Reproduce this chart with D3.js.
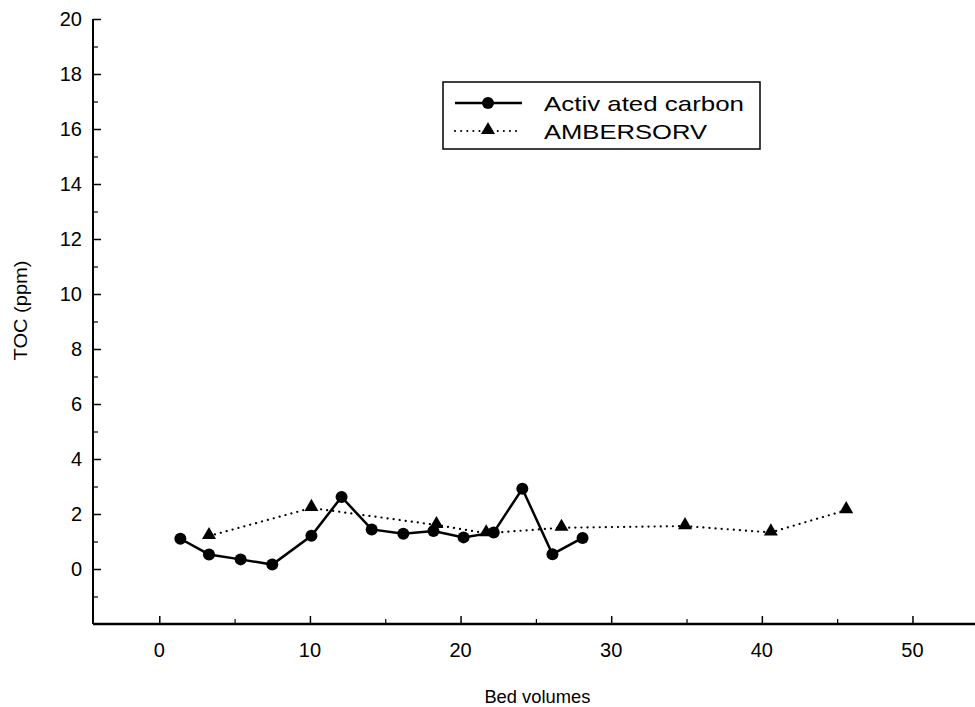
<!DOCTYPE html>
<html>
<head>
<meta charset="utf-8">
<script src="https://cdn.jsdelivr.net/npm/d3@7"></script>
<style>
  body { margin: 0; background: #fff; }
  svg { display: block; font-family: "Liberation Sans", Arial, sans-serif; }
</style>
</head>
<body>
<svg id="chart" width="975" height="707"></svg>
<script>
// data
const carbonBV  = [1.4, 3.3, 5.4, 7.5, 10.1, 12.1, 14.1, 16.2, 18.2, 20.2, 22.2, 24.1, 26.1, 28.1];
const carbonTOC = [1.1, 0.53, 0.35, 0.16, 1.21, 2.62, 1.44, 1.28, 1.38, 1.15, 1.33, 2.92, 0.54, 1.13];
const amberBV   = [3.3, 10.1, 18.4, 21.7, 26.7, 34.9, 40.6, 45.6];
const amberTOC  = [1.2, 2.22, 1.6, 1.3, 1.5, 1.56, 1.33, 2.14];
const xTicks = [0, 10, 20, 30, 40, 50];
const yTicks = [0, 2, 4, 6, 8, 10, 12, 14, 16, 18, 20];
const seriesNames = ["Activ ated carbon", "AMBERSORV"];

const margin = { top: 19, right: 0, bottom: 83, left: 93 };
const width = 975 - margin.left - margin.right;
const height = 707 - margin.top - margin.bottom;

const svg = d3.select("#chart")
    .append("g")
    .attr("transform", `translate(${margin.left},${margin.top})`);

const x = d3.scaleLinear().domain([-4.4, 54.15]).range([0, width]);
const y = d3.scaleLinear().domain([-2, 20]).range([height, 0]);

// y axis, ticks pointing inward
const yAxis = svg.append("g")
    .call(d3.axisRight(y).tickValues(yTicks).tickSize(8).tickFormat(""));
yAxis.select(".domain").attr("stroke-width", 2).attr("d", `M0,0V${height}`);
yAxis.selectAll(".tick line").attr("stroke-width", 1.5);
svg.append("g")
    .call(d3.axisRight(y).tickValues(d3.range(-1, 20, 2)).tickSize(5).tickFormat(""))
    .call(g => g.select(".domain").remove())
    .selectAll(".tick line").attr("stroke-width", 1.2);
svg.append("g")
    .selectAll("text")
    .data(yTicks)
    .enter().append("text")
    .attr("x", -11)
    .attr("y", d => y(d))
    .attr("dy", "0.36em")
    .attr("text-anchor", "end")
    .style("font-size", "20px")
    .text(d => d);

// x axis, ticks pointing up
const xAxis = svg.append("g")
    .attr("transform", `translate(0,${height})`)
    .call(d3.axisTop(x).tickValues(xTicks).tickSize(8).tickFormat(""));
xAxis.select(".domain").attr("stroke-width", 2.5).attr("d", `M0,0H${width}`);
xAxis.selectAll(".tick line").attr("stroke-width", 1.5);
svg.append("g")
    .attr("transform", `translate(0,${height})`)
    .call(d3.axisTop(x).tickValues([5, 15, 25, 35, 45]).tickSize(5).tickFormat(""))
    .call(g => g.select(".domain").remove())
    .selectAll(".tick line").attr("stroke-width", 1.2);
svg.append("g")
    .selectAll("text")
    .data(xTicks)
    .enter().append("text")
    .attr("x", d => x(d))
    .attr("y", height + 33)
    .attr("text-anchor", "middle")
    .style("font-size", "20px")
    .text(d => d);

// axis titles
svg.append("text")
    .attr("x", x(25.1))
    .attr("y", height + 79)
    .attr("text-anchor", "middle")
    .attr("textLength", 106)
    .attr("lengthAdjust", "spacingAndGlyphs")
    .style("font-size", "19px")
    .text("Bed volumes");
svg.append("text")
    .attr("transform", `translate(-66,${y(9.4)}) rotate(-90)`)
    .attr("text-anchor", "middle")
    .attr("textLength", 100)
    .attr("lengthAdjust", "spacingAndGlyphs")
    .style("font-size", "18px")
    .text("TOC (ppm)");

// series
const carbon = carbonBV.map((d, i) => [d, carbonTOC[i]]);
const amber = amberBV.map((d, i) => [d, amberTOC[i]]);
const line = d3.line().x(d => x(d[0])).y(d => y(d[1]));
const tri = d3.symbol().type(d3.symbolTriangle).size(85);

svg.append("path")
    .datum(amber)
    .attr("fill", "none")
    .attr("stroke", "#000")
    .attr("stroke-width", 2.2)
    .attr("stroke-linecap", "round")
    .attr("stroke-dasharray", "0.1 6")
    .attr("d", line);
svg.selectAll(".tri")
    .data(amber)
    .enter().append("path")
    .attr("class", "tri")
    .attr("transform", d => `translate(${x(d[0])},${y(d[1]) - 1})`)
    .attr("d", tri)
    .attr("fill", "#000");

svg.append("path")
    .datum(carbon)
    .attr("fill", "none")
    .attr("stroke", "#000")
    .attr("stroke-width", 2.5)
    .attr("d", line);
svg.selectAll(".dot")
    .data(carbon)
    .enter().append("circle")
    .attr("class", "dot")
    .attr("cx", d => x(d[0]))
    .attr("cy", d => y(d[1]))
    .attr("r", 6)
    .attr("fill", "#000");

// legend
const legend = svg.append("g").attr("transform", `translate(${443 - margin.left},${82 - margin.top})`);
legend.append("rect")
    .attr("width", 317)
    .attr("height", 67)
    .attr("fill", "#fff")
    .attr("stroke", "#000")
    .attr("stroke-width", 1.5);
legend.append("line")
    .attr("x1", 12).attr("x2", 79).attr("y1", 21).attr("y2", 21)
    .attr("stroke", "#000").attr("stroke-width", 2.5);
legend.append("circle")
    .attr("cx", 45).attr("cy", 21).attr("r", 6).attr("fill", "#000");
legend.append("line")
    .attr("x1", 12).attr("x2", 79).attr("y1", 49).attr("y2", 49)
    .attr("stroke", "#000").attr("stroke-width", 2)
    .attr("stroke-linecap", "round")
    .attr("stroke-dasharray", "0.1 6");
legend.append("path")
    .attr("transform", "translate(45,48)")
    .attr("d", tri)
    .attr("fill", "#000");
legend.selectAll(".ltext")
    .data(seriesNames)
    .enter().append("text")
    .attr("class", "ltext")
    .attr("x", 101)
    .attr("y", (d, i) => 21 + i * 28)
    .attr("dy", "0.36em")
    .attr("textLength", (d, i) => i === 0 ? 200 : 163)
    .attr("lengthAdjust", "spacingAndGlyphs")
    .style("font-size", "21px")
    .text(d => d);
</script>
</body>
</html>
